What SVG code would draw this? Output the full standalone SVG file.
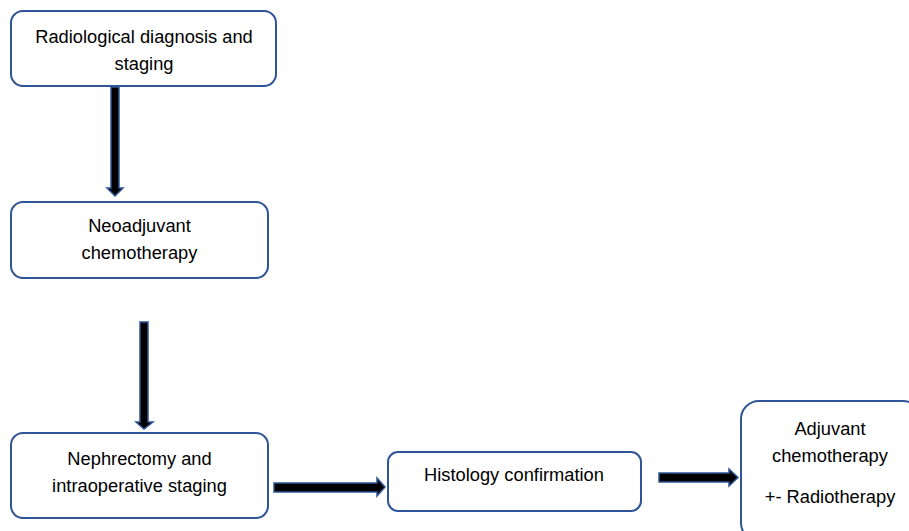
<svg xmlns="http://www.w3.org/2000/svg" width="909" height="531" viewBox="0 0 909 531">
<style>
.box{fill:#fff;stroke:#2f5597;stroke-width:2}
.t{font-family:"Liberation Sans",Arial,sans-serif;font-size:18.3px;fill:#000;text-anchor:middle}
.arr{fill:#000;stroke:#2f5597;stroke-width:1.5;stroke-linejoin:miter}
</style>
<rect width="909" height="531" fill="#fff"/>
<g id="n1"><rect class="box" x="11" y="11" width="265" height="75" rx="12"/>
<text class="t" x="144" y="43">Radiological diagnosis and</text><text class="t" x="144" y="70">staging</text></g>
<g id="n2"><rect class="box" x="11" y="202" width="257" height="76" rx="12"/>
<text class="t" x="139.5" y="232">Neoadjuvant</text><text class="t" x="139.5" y="259">chemotherapy</text></g>
<g id="n3"><rect class="box" x="11" y="433" width="257" height="85" rx="12"/>
<text class="t" x="139.5" y="465">Nephrectomy and</text><text class="t" x="139.5" y="492">intraoperative staging</text></g>
<g id="n4"><rect class="box" x="388" y="452" width="253" height="59" rx="10"/>
<text class="t" x="514" y="481">Histology confirmation</text></g>
<g id="n5"><rect class="box" x="741" y="401" width="180" height="140" rx="18"/>
<text class="t" x="830" y="435">Adjuvant</text><text class="t" x="830" y="462">chemotherapy</text><text class="t" x="830" y="503">+- Radiotherapy</text></g>
<g id="connectors">
<polygon class="arr" points="111,87 119,87 119,188 123,188 115,196 107,188 111,188"/>
<polygon class="arr" points="140,322 148,322 148,422 153,422 144,429 136,422 140,422"/>
<polygon class="arr" points="274,483 377,483 377,478 385,487 377,496 377,492 274,492"/>
<polygon class="arr" points="659,473 729,473 729,469 738,477.5 729,486 729,482 659,482"/>
</g>
</svg>
